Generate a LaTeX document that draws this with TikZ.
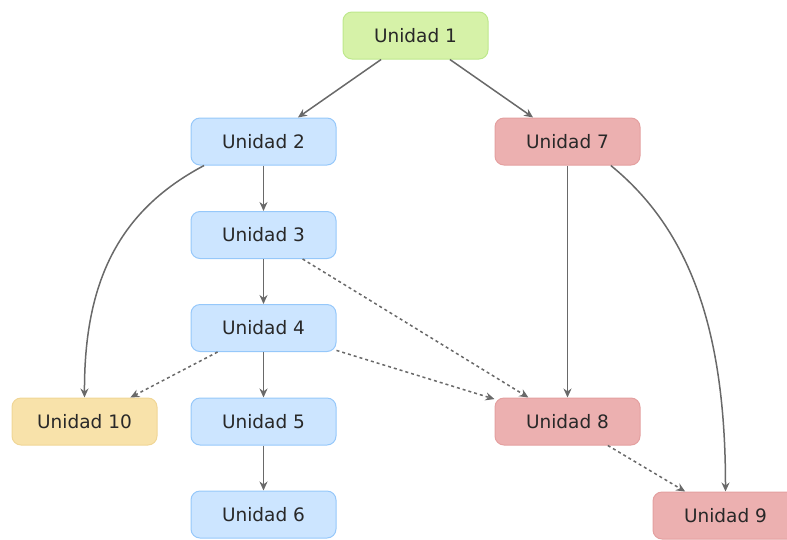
\documentclass[tikz,border=0pt]{standalone}
\usepackage{fontspec}
\setmainfont{DejaVu Sans}
\usetikzlibrary{arrows.meta}
\definecolor{gfill}{RGB}{214,242,168}
\definecolor{gline}{RGB}{190,232,140}
\definecolor{bfill}{RGB}{204,229,255}
\definecolor{bline}{RGB}{150,200,250}
\definecolor{rfill}{RGB}{236,176,176}
\definecolor{rline}{RGB}{228,160,160}
\definecolor{yfill}{RGB}{248,226,170}
\definecolor{yline}{RGB}{240,214,150}
\definecolor{txt}{RGB}{40,40,40}
\definecolor{edge}{RGB}{105,105,105}
\tikzset{
  unit/.style={draw, rounded corners=9pt, minimum width=145pt, minimum height=47pt,
    line width=1pt, text=txt, font=\fontsize{18.5}{22}\selectfont, inner sep=0pt},
  green/.style={unit, fill=gfill, draw=gline},
  blue/.style={unit, fill=bfill, draw=bline},
  red/.style={unit, fill=rfill, draw=rline},
  yellow/.style={unit, fill=yfill, draw=yline},
  conn/.style={draw=edge, line width=1.5pt, -{Stealth[length=9pt,width=8pt]}},
  dconn/.style={conn, dash pattern=on 3pt off 3pt}
}
\begin{document}
\begin{tikzpicture}[x=1pt,y=-1pt]
\useasboundingbox (0,0) rectangle (787,539);
\clip (0,0) rectangle (787,539);
\node[green]  (n1)  at (415.5,35.5) {Unidad 1};
\node[blue]   (n2)  at (263.5,141.5) {Unidad 2};
\node[red]    (n7)  at (567.5,141.5) {Unidad 7};
\node[blue]   (n3)  at (263.5,235) {Unidad 3};
\node[blue]   (n4)  at (263.5,328) {Unidad 4};
\node[yellow] (n10) at (84.5,421.5) {Unidad 10};
\node[blue]   (n5)  at (263.5,421.5) {Unidad 5};
\node[red]    (n8)  at (567.5,421.5) {Unidad 8};
\node[blue]   (n6)  at (263.5,514.5) {Unidad 6};
\node[red]    (n9)  at (725.5,515.5) {Unidad 9};

\draw[conn] (n1) -- (n2);
\draw[conn] (n1) -- (n7);
\draw[conn] (n2) -- (n3);
\draw[conn] (n3) -- (n4);
\draw[conn] (n4) -- (n5);
\draw[conn] (n5) -- (n6);
\draw[conn] (n7) -- (n8);
\draw[conn] (n2.202) .. controls (120,210) and (84,280) .. (n10.north);
\draw[conn] (n7.331) .. controls (690,230) and (725.5,330) .. (n9.north);
\draw[dconn] (n3) -- (n8);
\draw[dconn] (n4) -- (n8);
\draw[dconn] (n4) -- (n10);
\draw[dconn] (n8) -- (n9);
\end{tikzpicture}
\end{document}
